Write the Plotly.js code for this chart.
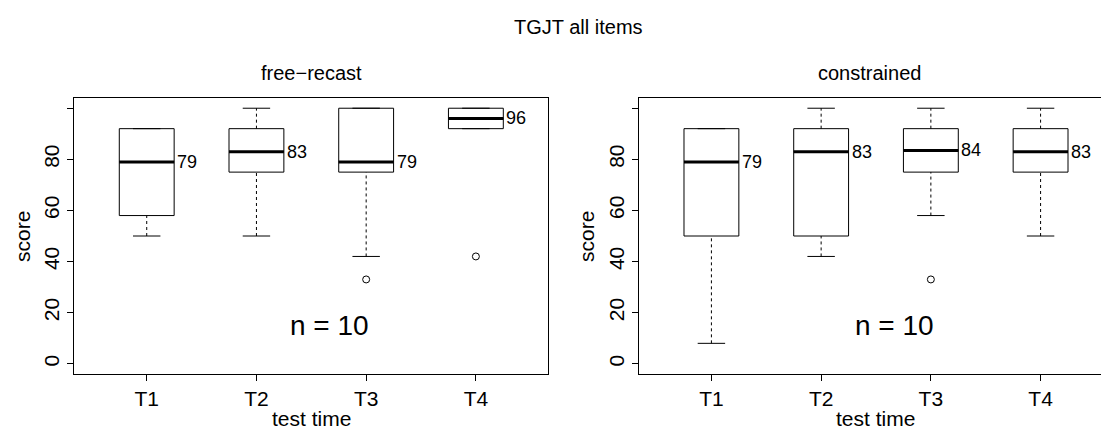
<!DOCTYPE html>
<html>
<head>
<meta charset="utf-8">
<script src="https://cdn.plot.ly/plotly-3.0.1.min.js"></script>
<style>
html,body{margin:0;padding:0;overflow:hidden;background:#fff;}
#chart{width:1140px;height:432px;}
</style>
</head>
<body>
<div id="chart"></div>
<script>
// ---- data ----
const categories = ['T1', 'T2', 'T3', 'T4'];
const positions = [1, 2, 3, 4];

const freeLower  = [50, 50, 42, 92];
const freeQ1     = [58, 75, 75, 92];
const freeMedian = [79, 83, 79, 96];
const freeQ3     = [92, 92, 100, 100];
const freeUpper  = [92, 100, 100, 100];
const freeOutX   = [3, 4];
const freeOutY   = [33, 42];

const conLower  = [8, 42, 58, 50];
const conQ1     = [50, 50, 75, 75];
const conMedian = [79, 83, 83.5, 83];
const conQ3     = [92, 92, 92, 92];
const conUpper  = [92, 100, 100, 100];
const conOutX   = [3];
const conOutY   = [33];

const panelTitles = ['free\u2212recast', 'constrained'];
const mainTitle = 'TGJT all items';
const nLabel = 'n = 10';
const yTicks = [0, 20, 40, 60, 80, 100];
const yTickText = ['0', '20', '40', '60', '80', ''];

// ---- drawing ----
const W = 1140, H = 432;
const FONT = 'Liberation Sans, Arial, Helvetica, sans-serif';
const BOXW = 0.5;

function panel(lower, q1, med, q3, upper, outX, outY, xa, ya) {
  const traces = [];
  traces.push({
    type: 'box', x: positions, q1: q1, median: med, q3: q3,
    lowerfence: q1, upperfence: q3, width: BOXW, whiskerwidth: 0,
    fillcolor: '#ffffff', line: {color: '#000', width: 1},
    boxpoints: false, xaxis: xa, yaxis: ya, hoverinfo: 'skip', showlegend: false
  });
  const wx = [], wy = [];
  positions.forEach((p, i) => {
    wx.push(p, p, null, p, p, null);
    wy.push(q3[i], upper[i], null, lower[i], q1[i], null);
  });
  traces.push({type: 'scatter', mode: 'lines', x: wx, y: wy, xaxis: xa, yaxis: ya,
    line: {color: '#000', width: 1, dash: '3px,3px'}, hoverinfo: 'skip', showlegend: false});
  const sx = [], sy = [];
  positions.forEach((p, i) => {
    sx.push(p - BOXW / 4, p + BOXW / 4, null, p - BOXW / 4, p + BOXW / 4, null);
    sy.push(upper[i], upper[i], null, lower[i], lower[i], null);
  });
  traces.push({type: 'scatter', mode: 'lines', x: sx, y: sy, xaxis: xa, yaxis: ya,
    line: {color: '#000', width: 1}, hoverinfo: 'skip', showlegend: false});
  const mx = [], my = [];
  positions.forEach((p, i) => {
    mx.push(p - BOXW / 2, p + BOXW / 2, null);
    my.push(med[i], med[i], null);
  });
  traces.push({type: 'scatter', mode: 'lines', x: mx, y: my, xaxis: xa, yaxis: ya,
    line: {color: '#000', width: 3}, hoverinfo: 'skip', showlegend: false});
  traces.push({type: 'scatter', mode: 'markers', x: outX, y: outY, xaxis: xa, yaxis: ya,
    marker: {symbol: 'circle-open', size: 7, color: '#000', line: {width: 1, color: '#000'}},
    hoverinfo: 'skip', showlegend: false});
  return traces;
}

const data = [].concat(
  panel(freeLower, freeQ1, freeMedian, freeQ3, freeUpper, freeOutX, freeOutY, 'x', 'y'),
  panel(conLower, conQ1, conMedian, conQ3, conUpper, conOutX, conOutY, 'x2', 'y2')
);

function xAxis(domain) {
  return {
    domain: domain, range: [0.34, 4.66], tickvals: positions, ticktext: categories,
    ticks: 'outside', ticklen: 6, tickcolor: '#000', showline: true, mirror: true,
    linecolor: '#000', linewidth: 1, showgrid: false, zeroline: false,
    tickfont: {family: FONT, size: 21, color: '#000'}, fixedrange: true
  };
}
function yAxis(domain, anchor) {
  return {
    domain: domain, range: [-4, 104], tickvals: yTicks, ticktext: yTickText,
    tickangle: -90, ticks: 'outside', ticklen: 6, tickcolor: '#000', showline: true, mirror: true,
    linecolor: '#000', linewidth: 1, showgrid: false, zeroline: false, anchor: anchor,
    tickfont: {family: FONT, size: 21, color: '#000'}, fixedrange: true
  };
}

const yDom = [1 - 374 / H, 1 - 98 / H];
function px(x) { return x / W; }
function py(y) { return 1 - y / H; }

const annotations = [];
function txt(x, y, text, size, angle) {
  annotations.push({xref: 'paper', yref: 'paper', x: px(x), y: py(y), text: text,
    showarrow: false, xanchor: 'center', yanchor: 'middle', textangle: angle || 0,
    font: {family: FONT, size: size, color: '#000'}});
}
txt(578, 27, mainTitle, 20);
txt(311, 73, panelTitles[0], 20);
txt(869, 73, panelTitles[1], 20);
txt(22, 237, 'score', 21, -90);
txt(586, 237, 'score', 21, -90);
txt(311, 418, 'test time', 21);
txt(876, 418, 'test time', 21);

function medLabels(med, xr, yr) {
  positions.forEach((p, i) => {
    annotations.push({xref: xr, yref: yr, x: p + BOXW / 2, y: med[i], text: String(Math.round(med[i])),
      showarrow: false, xanchor: 'left', yanchor: 'middle', xshift: 1,
      font: {family: FONT, size: 18, color: '#000'}});
  });
  annotations.push({xref: xr, yref: yr, x: 2.67, y: 15, text: nLabel, showarrow: false,
    xanchor: 'center', yanchor: 'middle', font: {family: FONT, size: 28, color: '#000'}});
}
medLabels(freeMedian, 'x', 'y');
medLabels(conMedian, 'x2', 'y2');

const layout = {
  width: W, height: H,
  margin: {l: 0, r: 0, t: 0, b: 0},
  paper_bgcolor: '#fff', plot_bgcolor: '#fff',
  showlegend: false,
  xaxis: xAxis([74.3 / W, 548.3 / W]),
  yaxis: yAxis(yDom, 'x'),
  xaxis2: Object.assign(xAxis([639 / W, 1113 / W]), {anchor: 'y2'}),
  yaxis2: yAxis(yDom, 'x2'),
  annotations: annotations
};
layout.xaxis.anchor = 'y';

Plotly.newPlot('chart', data, layout, {staticPlot: true, responsive: false});
</script>
</body>
</html>
